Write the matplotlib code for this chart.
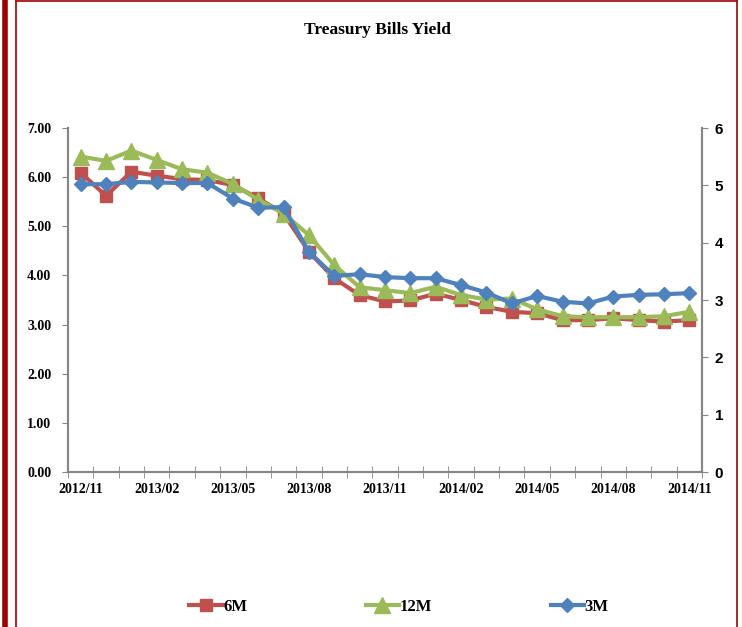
import numpy as np
import matplotlib
matplotlib.use("Agg")
import matplotlib.pyplot as plt
from matplotlib.lines import Line2D

# monthly observations, 2012/11 .. 2014/11
months = ["2012/11", "2012/12", "2013/01", "2013/02", "2013/03", "2013/04",
          "2013/05", "2013/06", "2013/07", "2013/08", "2013/09", "2013/10",
          "2013/11", "2013/12", "2014/01", "2014/02", "2014/03", "2014/04",
          "2014/05", "2014/06", "2014/07", "2014/08", "2014/09", "2014/10",
          "2014/11"]
six_m = [6.09, 5.62, 6.11, 6.03, 5.96, 5.94, 5.84, 5.57, 5.26, 4.48, 3.94, 3.60,
         3.47, 3.49, 3.63, 3.50, 3.36, 3.26, 3.23, 3.09, 3.09, 3.13, 3.09, 3.06, 3.09]
twelve_m = [6.42, 6.33, 6.54, 6.35, 6.16, 6.09, 5.86, 5.54, 5.26, 4.82, 4.21, 3.76,
            3.70, 3.64, 3.77, 3.60, 3.51, 3.53, 3.31, 3.17, 3.15, 3.15, 3.15, 3.17, 3.26]
# 3M is read against the secondary (right) axis
three_m = [5.02, 5.02, 5.06, 5.05, 5.04, 5.04, 4.77, 4.61, 4.62, 3.84, 3.42, 3.45,
           3.40, 3.38, 3.38, 3.26, 3.13, 2.94, 3.07, 2.97, 2.94, 3.06, 3.09, 3.10, 3.12]

W, H = 742, 627
fig = plt.figure(figsize=(W / 100, H / 100), dpi=100)
ax = fig.add_axes([68 / W, 1 - 472 / H, (702 - 68) / W, (472 - 128) / H])
ax2 = ax.twinx()

x = np.arange(len(months))
red, green, blue = "#C0504D", "#9BBB59", "#4F81BD"
l1, = ax.plot(x, six_m, color=red, lw=3, marker="s", ms=8.5, label="6M")
l2, = ax.plot(x, twelve_m, color=green, lw=3, marker="^", ms=11, label="12M")
l3, = ax2.plot(x, three_m, color=blue, lw=3, marker="D", ms=7.5, label="3M")

serif = "Liberation Serif"
grey = "#868686"

ax.set_xlim(-0.5, len(months) - 0.5)
ax.set_ylim(0, 7)
ax2.set_ylim(0, 6)
ax.set_yticks(range(0, 8))
ax.set_yticklabels(["%.2f" % v for v in range(0, 8)], fontfamily=serif,
                   fontweight="bold", fontsize=10)
ax2.set_yticks(range(0, 7))
ax2.set_yticklabels([str(v) for v in range(0, 7)], fontfamily="Liberation Sans",
                    fontweight="bold", fontsize=11)

ax.set_xticks(x[::3])
ax.set_xticklabels(months[::3], fontfamily=serif, fontweight="bold", fontsize=10)
ax.set_xticks(np.arange(-0.5, len(months)), minor=True)
ax.tick_params(axis="x", which="major", length=0, pad=8)
ax.tick_params(axis="x", which="minor", direction="inout", length=8, color=grey)
ax.tick_params(axis="y", direction="out", length=4, color=grey, pad=8)
ax2.tick_params(axis="y", direction="out", length=4, color=grey, pad=5)

for a in (ax, ax2):
    a.spines["top"].set_visible(False)
    for s in ("left", "right", "bottom"):
        a.spines[s].set_color(grey)
        a.spines[s].set_linewidth(1.5)

fig.text(377 / W, 1 - 30 / H, "Treasury Bills Yield", ha="center", va="center",
         fontfamily=serif, fontweight="bold", fontsize=12.5)

fig.legend([l1, l2, l3], ["6M", "12M", "3M"], loc="center",
           bbox_to_anchor=(399 / W, 1 - 607 / H), ncol=3, frameon=False,
           handlelength=2.0, handletextpad=0.05, columnspacing=7.1,
           prop={"family": serif, "weight": "bold", "size": 12})

# page border
border = "#A00000"
fig.add_artist(Line2D([4.5 / W, 4.5 / W], [0, 1], color=border, lw=4,
                      transform=fig.transFigure))
fig.add_artist(Line2D([16 / W, 16 / W], [0, 1 - 1 / H], color=border, lw=1.2,
                      transform=fig.transFigure))
fig.add_artist(Line2D([16 / W, 737 / W], [1 - 1 / H, 1 - 1 / H], color=border, lw=1.2,
                      transform=fig.transFigure))
fig.add_artist(Line2D([737 / W, 737 / W], [0, 1 - 1 / H], color=border, lw=1.2,
                      transform=fig.transFigure))

fig.savefig("out.png", dpi=100)
